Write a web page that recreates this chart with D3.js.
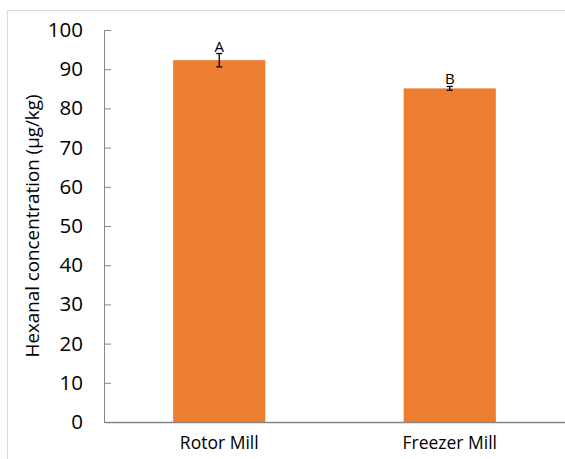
<!DOCTYPE html>
<html>
<head>
<meta charset="utf-8">
<script src="https://cdn.jsdelivr.net/npm/d3@7"></script>
<style>
  html, body { margin: 0; padding: 0; background: #fff; overflow: hidden; }
  svg { display: block; }
  svg text { font-family: "Open Sans", sans-serif; }
</style>
</head>
<body>
<svg id="chart" width="565" height="459"></svg>
<script>
// Hexanal concentration by milling method
const categories = ["Rotor Mill", "Freezer Mill"];
const values = [92.3, 85.1];
const errors = [1.7, 0.5];
const letters = ["A", "B"];
const yTicks = [0, 10, 20, 30, 40, 50, 60, 70, 80, 90, 100];
const yTitle = "Hexanal concentration (µg/kg)";

const FONT = "'Open Sans', sans-serif";
const svg = d3.select("#chart");
const W = 565, H = 459;
const margin = { left: 104, right: 0, top: 30, bottom: 37 };

// outer chart frame (left and top edges fall inside the view)
svg.append("path")
  .attr("d", `M7.5,${H}V10.5H${W}`)
  .attr("fill", "none").attr("stroke", "#d9d9d9");

const x = d3.scaleBand()
  .domain(categories)
  .range([margin.left, W - margin.right])
  .paddingInner(0.6).paddingOuter(0.3);

const y = d3.scaleLinear()
  .domain([0, 100])
  .range([H - margin.bottom, margin.top]);

// bars
svg.append("g").selectAll("rect")
  .data(categories)
  .join("rect")
  .attr("x", d => x(d))
  .attr("width", x.bandwidth())
  .attr("y", (d, i) => y(values[i]))
  .attr("height", (d, i) => y(0) - y(values[i]))
  .attr("fill", "#ED7D31");

// y axis
const yAxis = d3.axisLeft(y).tickValues(yTicks).tickSize(-7).tickPadding(21).tickSizeOuter(0);
const gy = svg.append("g").attr("transform", `translate(${margin.left},0)`).call(yAxis)
  .attr("font-family", FONT).attr("font-size", 20.5);
gy.select(".domain").attr("stroke", "#868686");
gy.selectAll(".tick line").attr("stroke", "#868686");
gy.selectAll(".tick text").attr("fill", "#000");

// x axis
const xAxis = d3.axisBottom(x).tickSize(0).tickPadding(15).tickSizeOuter(0);
const gx = svg.append("g").attr("transform", `translate(0,${y(0)})`).call(xAxis)
  .attr("font-family", FONT).attr("font-size", 17.5);
gx.select(".domain").attr("stroke", "#868686").attr("stroke-width", 1.3);
gx.selectAll(".tick text").attr("fill", "#000");

// error bars
const eb = svg.append("g").attr("stroke", "#000").attr("stroke-width", 1.3);
categories.forEach((c, i) => {
  const cx = x(c) + x.bandwidth() / 2;
  const top = y(values[i] + errors[i]);
  const bot = y(values[i] - errors[i]);
  eb.append("line").attr("x1", cx).attr("x2", cx).attr("y1", top).attr("y2", bot);
  eb.append("line").attr("x1", cx - 3).attr("x2", cx + 3).attr("y1", top).attr("y2", top);
  eb.append("line").attr("x1", cx - 3).attr("x2", cx + 3).attr("y1", bot).attr("y2", bot);
});

// significance letters
svg.append("g").selectAll("text")
  .data(categories)
  .join("text")
  .attr("x", d => x(d) + x.bandwidth() / 2)
  .attr("y", (d, i) => y(values[i] + errors[i]) - 2)
  .attr("text-anchor", "middle")
  .attr("font-family", FONT)
  .attr("font-size", 15)
  .attr("fill", "#000")
  .text((d, i) => letters[i]);

// y axis title
svg.append("text")
  .attr("transform", `translate(39,${(y(0) + y(100)) / 2}) rotate(-90)`)
  .attr("text-anchor", "middle")
  .attr("font-family", FONT)
  .attr("font-size", 18.8)
  .attr("fill", "#000")
  .text(yTitle);
</script>
</body>
</html>
